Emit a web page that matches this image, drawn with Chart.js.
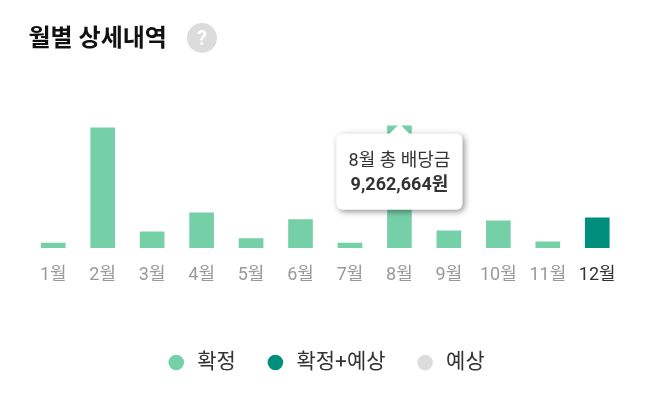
<!DOCTYPE html>
<html lang="ko"><head><meta charset="utf-8">
<style>
html,body{margin:0;padding:0;background:#fff}
#wrap{position:relative;width:650px;height:405px}
#help{position:absolute;left:187px;top:23px;width:30px;height:30px;border-radius:50%;background:#dcdcdc;color:#fff;font:700 20px/30px Roboto,sans-serif;text-align:center}
</style>
<script src="https://cdn.jsdelivr.net/npm/chart.js@4/dist/chart.umd.min.js"></script>
</head><body>
<div id="wrap"><canvas id="c" width="650" height="405"></canvas><div id="help">?</div></div>
<script>
const categories=['1월','2월','3월','4월','5월','6월','7월','8월','9월','10월','11월','12월'];
const confirmed=[360000,9110000,1215000,2657000,706000,2150000,357000,9262664,1290000,2050000,455000,null];
const confirmedPlus=[null,null,null,null,null,null,null,null,null,null,null,2280000];
const expected=[null,null,null,null,null,null,null,null,null,null,null,null];
const seriesNames=['확정','확정+예상','예상'];
const titleText='월별 상세내역';
const activeIndex=7;
const FONT="Roboto,'Noto Sans CJK KR',sans-serif";
const shadow={id:'shadow',beforeTooltipDraw(chart,args){
  const t=args.tooltip,ctx=chart.ctx;
  ctx.save();ctx.shadowColor='rgba(0,0,0,.45)';ctx.shadowBlur=6;ctx.shadowOffsetX=2;ctx.shadowOffsetY=2;
  ctx.fillStyle='#fff';ctx.beginPath();ctx.roundRect(t.x,t.y,t.width,t.height,6);ctx.fill();ctx.restore();
}};
const bar=(label,data,color)=>({label,data,backgroundColor:color,hoverBackgroundColor:color,barThickness:24});
const chart=new Chart(document.getElementById('c'),{
  type:'bar',
  data:{labels:categories,datasets:[
    bar(seriesNames[0],confirmed,'#75d0a7'),
    bar(seriesNames[1],confirmedPlus,'#008f7c'),
    bar(seriesNames[2],expected,'#dcdcdc')
  ]},
  plugins:[shadow],
  options:{
    responsive:false,animation:false,
    layout:{padding:{left:28.5,right:28,top:26,bottom:22}},
    scales:{
      x:{stacked:true,grid:{display:false},border:{display:false},
         afterFit:s=>{s.height+=27.5},
         ticks:{autoSkip:false,maxRotation:0,padding:9,font:{family:FONT,size:18},
                color:c=>c.index===11?'#333':'#999'}},
      y:{stacked:true,display:false,min:0,max:12830000}
    },
    plugins:{
      title:{display:true,text:titleText,align:'start',color:'#111',font:{family:FONT,size:24,weight:'700'},padding:{top:0,bottom:24}},
      legend:{position:'bottom',onClick:null,labels:{usePointStyle:true,pointStyle:'circle',boxHeight:11,padding:29,color:'#333',font:{family:FONT,size:21}}},
      tooltip:{enabled:true,backgroundColor:'#fff',titleColor:'#333',bodyColor:'#333',
        titleFont:{family:FONT,size:18,weight:'400'},bodyFont:{family:FONT,size:18,weight:'700'},
        titleAlign:'center',bodyAlign:'center',titleMarginBottom:2.4,displayColors:false,
        padding:{left:12,right:12,top:17,bottom:13},cornerRadius:6,caretSize:10,caretPadding:-2,
        xAlign:'center',yAlign:'top',
        callbacks:{title:i=>categories[i[0].dataIndex]+' 총 배당금',label:i=>i.parsed.y.toLocaleString('en-US')+'원'}}
    }
  }
});
const el=[{datasetIndex:0,index:activeIndex}];
chart.setActiveElements(el);
chart.tooltip.setActiveElements(el,{x:0,y:0});
chart.update();
</script></body></html>
